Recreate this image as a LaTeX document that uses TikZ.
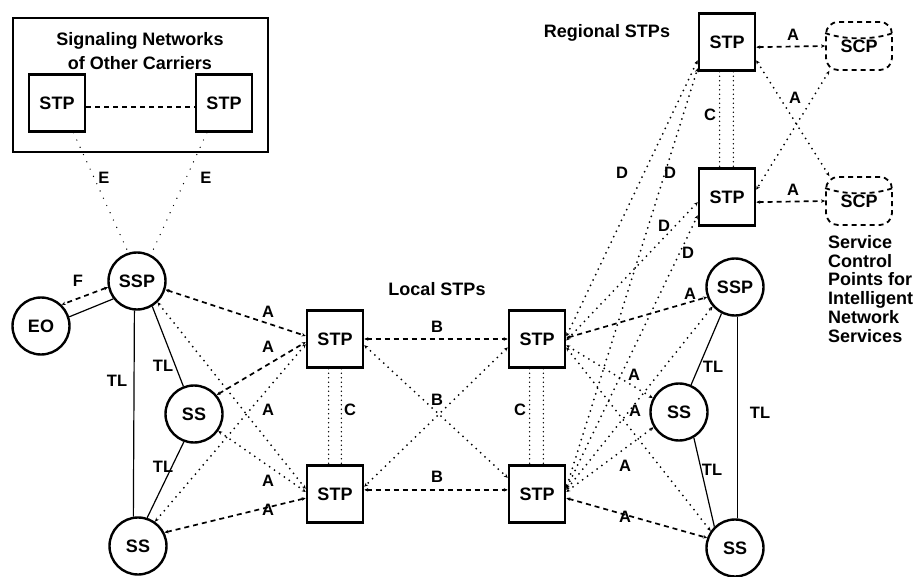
\documentclass[tikz,border=0pt]{standalone}
\usepackage{fontspec}
\setmainfont{Liberation Sans}
\usetikzlibrary{arrows.meta}

\begin{document}
\begin{tikzpicture}[x=1pt,y=-1pt,
  txt/.style={font=\bfseries\fontsize{18}{18.8}\selectfont, inner sep=0pt},
  lbl/.style={font=\bfseries\fontsize{16.5}{19}\selectfont, inner sep=0pt},
  stpbox/.style={draw, line width=2.5pt, minimum width=56pt, minimum height=57pt,
    inner sep=0pt, font=\bfseries\fontsize{18}{21}\selectfont},
  office/.style={circle, draw, line width=2.4pt, minimum size=57pt, inner sep=0pt,
    font=\bfseries\fontsize{18}{21}\selectfont},
  scpbox/.style={draw, line width=1.8pt, dash pattern=on 5pt off 4pt,
    rounded corners=12pt, minimum width=66pt, minimum height=48pt, inner sep=0pt,
    font=\bfseries\fontsize{18}{21}\selectfont},
  tips/.style={{Stealth[length=4pt,width=3.5pt]}-{Stealth[length=4pt,width=3.5pt]}},
  dashline/.style={line width=1.7pt, dash pattern=on 5pt off 4pt},
  dotline/.style={line width=2pt, line cap=round, dash pattern=on 0pt off 6pt},
  dsh/.style={dashline, tips},
  dts/.style={dotline, tips},
  cline/.style={line width=1.6pt, line cap=round, dash pattern=on 0pt off 4.5pt},
  eline/.style={line width=1.4pt, line cap=round, dash pattern=on 0pt off 8pt},
  tline/.style={line width=1.2pt},
]
\useasboundingbox (0,0) rectangle (916,577);

% signaling networks of other carriers
\node[draw, line width=2.3pt, minimum width=255pt, minimum height=134pt, inner sep=0pt]
  (carrier) at (140.5,85) {};
\node[txt] (carrier1) at (140,41) {Signaling Networks};
\node[txt] (carrier2) at (140,63) {of Other Carriers};
\node[stpbox] (o1) at (57,103) {STP};
\node[stpbox] (o2) at (224,103) {STP};
\draw[dashline] (o1.352) -- (o2.188);

% offices
\node[office] (ssp) at (137,281) {SSP};
\node[office] (eo) at (41,326) {EO};
\node[office] (ss1) at (194,414) {SS};
\node[office] (ss2) at (138,546) {SS};
\node[office] (rssp) at (735,287) {SSP};
\node[office] (rss1) at (679,412) {SS};
\node[office] (rss2) at (735,548) {SS};

% local and regional STPs
\node[txt] (localtxt) at (437,289) {Local STPs};
\node[stpbox] (lt) at (335,339) {STP};
\node[stpbox] (lb) at (335,494) {STP};
\node[stpbox] (rt) at (537,339) {STP};
\node[stpbox] (rb) at (537,494) {STP};
\node[txt] (regtxt) at (607,33) {Regional STPs};
\node[stpbox] (gt) at (727,42) {STP};
\node[stpbox] (gb) at (727,197) {STP};

% service control points
\node[scpbox] (scp1) at (859,46) {SCP};
\node[scpbox] (scp2) at (859,201) {SCP};
\foreach \s in {scp1,scp2}{
  \draw[line width=1.8pt, dash pattern=on 5pt off 4pt]
    ([yshift=-12pt]\s.north west) .. controls +(20pt,-7pt) and +(-20pt,-7pt)
    .. ([yshift=-12pt]\s.north east);
}
\node[txt, anchor=north west, align=left] (scptxt) at (828,235)
  {Service\\Control\\Points for\\Intelligent\\Network\\Services};

% E and F links
\draw[eline] (o1.299) -- (ssp.107);
\draw[eline] (o2.240) -- (ssp.62);
\node[lbl] (le1) at (104,178) {E};
\node[lbl] (le2) at (206,178) {E};
\draw[dsh] (ssp.192) -- (eo.46);
\node[lbl] (lf) at (78,281) {F};

% trunk lines
\draw[tline] (ssp.217) -- (eo.18);
\draw[tline] (ssp.265) -- (ss2.99);
\draw[tline] (ssp.301) -- (ss1.111);
\draw[tline] (ss1.250) -- (ss2.72);
\node[lbl] (tl1) at (117,381) {TL};
\node[lbl] (tl2) at (163,366) {TL};
\node[lbl] (tl3) at (163,467) {TL};
\draw[tline] (rssp.243) -- (rss1.66);
\draw[tline] (rssp.275) -- (rss2.85);
\draw[tline] (rss1.300) -- (rss2.134);
\node[lbl] (tl4) at (713,367) {TL};
\node[lbl] (tl5) at (760,413) {TL};
\node[lbl] (tl6) at (712,470) {TL};

% access links, left side
\draw[dsh] (ssp.343) -- (lt.174);
\draw[dsh] (ss1.40) -- (lt.186);
\draw[dts] (ss2.55) -- (lt.190);
\draw[dts] (ssp.314) -- (lb.170);
\draw[dts] (ss1.325) -- (lb.176);
\draw[dsh] (ss2.27) -- (lb.188);
\node[lbl] (la1) at (268,312) {A};
\node[lbl] (la2) at (268,347) {A};
\node[lbl] (la3) at (268,410) {A};
\node[lbl] (la4) at (268,481) {A};
\node[lbl] (la5) at (268,510) {A};

% bridge and cross links between local STPs
\draw[dsh] (lt.east) -- (rt.west);
\draw[dsh] (lb.8) -- (rb.172);
\draw[dts] (lt.348) -- (rb.151);
\draw[dts] (rt.196) -- (lb.14);
\node[lbl] (lb1) at (437,327) {B};
\node[lbl] (lb2) at (437,400) {B};
\node[lbl] (lb3) at (437,477) {B};
\draw[cline] (lt.258) -- (lb.102);
\draw[cline] (lt.282) -- (lb.78);
\draw[cline] (rt.256) -- (rb.104);
\draw[cline] (rt.282) -- (rb.78);
\node[lbl] (lc1) at (350,410) {C};
\node[lbl] (lc2) at (520,410) {C};

% access links, right side
\draw[dsh] (rt.2) -- (rssp.200);
\draw[dts] (rt.348) -- (rss1.152);
\draw[dts] (rt.344) -- (rss2.145);
\draw[dts] (rb.8) -- (rssp.221);
\draw[dts] (rb.4) -- (rss1.211);
\draw[dsh] (rb.352) -- (rss2.160);
\node[lbl] (ra1) at (690,294) {A};
\node[lbl] (ra2) at (634,375) {A};
\node[lbl] (ra3) at (635,411) {A};
\node[lbl] (ra4) at (625,466) {A};
\node[lbl] (ra5) at (625,517) {A};

% diagonal links to regional STPs
\draw[dts] (rt.5) -- (gt.212);
\draw[dts] (rb.12) -- (gt.222);
\draw[dts] (rt.357) -- (gb.190);
\draw[dts] (rb.10) -- (gb.212);
\node[lbl] (ld1) at (622,173) {D};
\node[lbl] (ld2) at (670,173) {D};
\node[lbl] (ld3) at (664,226) {D};
\node[lbl] (ld4) at (688,253) {D};

% regional pair and SCP links
\draw[cline] (gt.256) -- (gb.104);
\draw[cline] (gt.282) -- (gb.78);
\node[lbl] (lc3) at (710,115) {C};
\draw[dsh] (gt.350) -- (scp1.west);
\draw[dsh] (gb.350) -- (scp2.west);
\draw[dts] (gt.328) -- (scp2.140);
\draw[dts] (scp1.220) -- (gb.14);
\node[lbl] (sa1) at (793,35) {A};
\node[lbl] (sa2) at (795,98) {A};
\node[lbl] (sa3) at (793,190) {A};
\end{tikzpicture}
\end{document}
